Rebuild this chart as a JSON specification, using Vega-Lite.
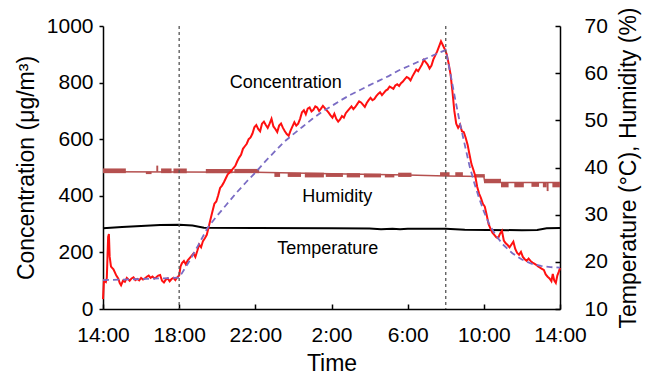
{
  "$schema": "https://vega.github.io/schema/vega-lite/v6.json",
  "width": 457,
  "height": 283,
  "autosize": {"type": "none"},
  "padding": {"left": 103, "top": 26, "right": 89, "bottom": 68},
  "background": "white",
  "config": {
    "font": "Liberation Sans",
    "view": {"stroke": null},
    "axis": {
      "labelFontSize": 21, "titleFontSize": 23, "titleFontWeight": "normal",
      "labelColor": "black", "titleColor": "black", "domainColor": "black",
      "tickColor": "black", "domainWidth": 1.5, "tickWidth": 1.5, "grid": false,
      "labelFont": "Liberation Sans", "titleFont": "Liberation Sans"
    }
  },
  "datasets": {
    "conc": [
      {"t":0,"c":35},{"t":0.05,"c":100},{"t":0.15,"c":95},{"t":0.2,"c":110},{"t":0.27,"c":255},{"t":0.31,"c":265},{"t":0.35,"c":185},{"t":0.42,"c":150},{"t":0.55,"c":140},{"t":0.7,"c":118},{"t":0.8,"c":108},{"t":0.88,"c":92},{"t":0.95,"c":84},{"t":1.05,"c":100},{"t":1.15,"c":96},{"t":1.25,"c":110},{"t":1.4,"c":100},{"t":1.5,"c":108},{"t":1.6,"c":112},{"t":1.7,"c":102},{"t":1.8,"c":106},{"t":1.9,"c":101},{"t":2.0,"c":110},{"t":2.1,"c":104},{"t":2.2,"c":108},{"t":2.3,"c":114},{"t":2.4,"c":118},{"t":2.5,"c":110},{"t":2.6,"c":115},{"t":2.7,"c":108},{"t":2.8,"c":112},{"t":2.9,"c":118},{"t":3.0,"c":120},{"t":3.1,"c":100},{"t":3.2,"c":94},{"t":3.3,"c":104},{"t":3.4,"c":108},{"t":3.5,"c":98},{"t":3.6,"c":106},{"t":3.7,"c":110},{"t":3.8,"c":102},{"t":3.9,"c":112},{"t":4.0,"c":118},{"t":4.07,"c":150},{"t":4.15,"c":162},{"t":4.25,"c":170},{"t":4.35,"c":158},{"t":4.45,"c":172},{"t":4.55,"c":180},{"t":4.65,"c":188},{"t":4.75,"c":196},{"t":4.85,"c":184},{"t":4.95,"c":205},{"t":5.05,"c":228},{"t":5.15,"c":218},{"t":5.25,"c":240},{"t":5.35,"c":250},{"t":5.45,"c":262},{"t":5.55,"c":290},{"t":5.65,"c":318},{"t":5.75,"c":345},{"t":5.85,"c":372},{"t":5.95,"c":380},{"t":6.05,"c":402},{"t":6.15,"c":428},{"t":6.25,"c":436},{"t":6.35,"c":448},{"t":6.45,"c":462},{"t":6.55,"c":476},{"t":6.65,"c":482},{"t":6.75,"c":490},{"t":6.85,"c":498},{"t":6.95,"c":506},{"t":7.05,"c":522},{"t":7.15,"c":535},{"t":7.25,"c":545},{"t":7.35,"c":566},{"t":7.45,"c":575},{"t":7.55,"c":584},{"t":7.65,"c":600},{"t":7.75,"c":606},{"t":7.85,"c":620},{"t":7.95,"c":642},{"t":8.05,"c":650},{"t":8.15,"c":636},{"t":8.25,"c":628},{"t":8.35,"c":655},{"t":8.45,"c":662},{"t":8.55,"c":650},{"t":8.65,"c":640},{"t":8.75,"c":655},{"t":8.85,"c":672},{"t":8.95,"c":645},{"t":9.05,"c":636},{"t":9.15,"c":625},{"t":9.25,"c":648},{"t":9.35,"c":655},{"t":9.45,"c":640},{"t":9.55,"c":628},{"t":9.65,"c":618},{"t":9.75,"c":612},{"t":9.85,"c":630},{"t":9.95,"c":645},{"t":10.05,"c":660},{"t":10.15,"c":648},{"t":10.25,"c":655},{"t":10.35,"c":672},{"t":10.45,"c":695},{"t":10.55,"c":702},{"t":10.65,"c":688},{"t":10.75,"c":708},{"t":10.85,"c":712},{"t":10.95,"c":698},{"t":11.05,"c":704},{"t":11.15,"c":716},{"t":11.25,"c":712},{"t":11.35,"c":700},{"t":11.45,"c":708},{"t":11.55,"c":718},{"t":11.65,"c":710},{"t":11.75,"c":702},{"t":11.85,"c":694},{"t":11.95,"c":684},{"t":12.05,"c":676},{"t":12.15,"c":690},{"t":12.25,"c":672},{"t":12.35,"c":662},{"t":12.45,"c":670},{"t":12.55,"c":682},{"t":12.65,"c":676},{"t":12.75,"c":692},{"t":12.85,"c":700},{"t":12.95,"c":708},{"t":13.05,"c":716},{"t":13.15,"c":706},{"t":13.25,"c":714},{"t":13.35,"c":724},{"t":13.45,"c":734},{"t":13.55,"c":730},{"t":13.65,"c":722},{"t":13.75,"c":714},{"t":13.85,"c":728},{"t":13.95,"c":738},{"t":14.05,"c":746},{"t":14.15,"c":738},{"t":14.25,"c":742},{"t":14.35,"c":752},{"t":14.45,"c":760},{"t":14.55,"c":766},{"t":14.65,"c":756},{"t":14.75,"c":764},{"t":14.85,"c":772},{"t":14.95,"c":776},{"t":15.05,"c":786},{"t":15.15,"c":782},{"t":15.25,"c":778},{"t":15.35,"c":790},{"t":15.45,"c":794},{"t":15.55,"c":788},{"t":15.65,"c":798},{"t":15.75,"c":804},{"t":15.85,"c":812},{"t":15.95,"c":820},{"t":16.05,"c":816},{"t":16.15,"c":808},{"t":16.25,"c":822},{"t":16.35,"c":834},{"t":16.45,"c":846},{"t":16.55,"c":840},{"t":16.65,"c":852},{"t":16.75,"c":864},{"t":16.85,"c":880},{"t":16.95,"c":872},{"t":17.05,"c":864},{"t":17.15,"c":850},{"t":17.25,"c":860},{"t":17.35,"c":882},{"t":17.45,"c":896},{"t":17.55,"c":910},{"t":17.65,"c":928},{"t":17.75,"c":946},{"t":17.85,"c":932},{"t":17.95,"c":918},{"t":18.05,"c":900},{"t":18.15,"c":868},{"t":18.25,"c":830},{"t":18.35,"c":770},{"t":18.45,"c":700},{"t":18.55,"c":655},{"t":18.65,"c":640},{"t":18.75,"c":652},{"t":18.85,"c":628},{"t":18.95,"c":625},{"t":19.05,"c":604},{"t":19.15,"c":580},{"t":19.25,"c":545},{"t":19.35,"c":512},{"t":19.45,"c":492},{"t":19.55,"c":470},{"t":19.65,"c":432},{"t":19.75,"c":408},{"t":19.85,"c":392},{"t":19.95,"c":372},{"t":20.05,"c":362},{"t":20.15,"c":332},{"t":20.25,"c":300},{"t":20.35,"c":284},{"t":20.45,"c":270},{"t":20.55,"c":262},{"t":20.65,"c":254},{"t":20.75,"c":250},{"t":20.85,"c":266},{"t":20.95,"c":276},{"t":21.05,"c":242},{"t":21.15,"c":232},{"t":21.25,"c":226},{"t":21.35,"c":218},{"t":21.45,"c":228},{"t":21.55,"c":238},{"t":21.65,"c":212},{"t":21.75,"c":198},{"t":21.85,"c":192},{"t":21.95,"c":202},{"t":22.05,"c":184},{"t":22.15,"c":176},{"t":22.25,"c":170},{"t":22.35,"c":178},{"t":22.45,"c":170},{"t":22.55,"c":164},{"t":22.65,"c":160},{"t":22.75,"c":156},{"t":22.85,"c":150},{"t":22.95,"c":146},{"t":23.05,"c":142},{"t":23.15,"c":138},{"t":23.25,"c":122},{"t":23.35,"c":114},{"t":23.45,"c":108},{"t":23.55,"c":98},{"t":23.62,"c":124},{"t":23.7,"c":100},{"t":23.78,"c":92},{"t":23.86,"c":118},{"t":23.94,"c":132},{"t":24.0,"c":145}
    ],
    "fit": [
      {"t":0,"c":102},{"t":1,"c":104},{"t":2,"c":106},{"t":3,"c":108},{"t":4,"c":111},{"t":4.5,"c":165},{"t":5,"c":225},{"t":5.5,"c":288},{"t":6,"c":330},{"t":6.5,"c":370},{"t":7,"c":410},{"t":7.5,"c":447},{"t":8,"c":482},{"t":8.5,"c":520},{"t":9,"c":555},{"t":9.5,"c":590},{"t":10,"c":618},{"t":10.5,"c":645},{"t":11,"c":672},{"t":11.5,"c":697},{"t":12,"c":717},{"t":12.5,"c":738},{"t":13,"c":757},{"t":13.5,"c":774},{"t":14,"c":791},{"t":14.5,"c":807},{"t":15,"c":823},{"t":15.5,"c":842},{"t":16,"c":857},{"t":16.5,"c":872},{"t":17,"c":886},{"t":17.5,"c":901},{"t":18,"c":915},{"t":18.25,"c":830},{"t":18.5,"c":740},{"t":18.75,"c":655},{"t":19,"c":580},{"t":19.25,"c":505},{"t":19.5,"c":445},{"t":19.75,"c":392},{"t":20,"c":345},{"t":20.25,"c":305},{"t":20.5,"c":275},{"t":20.75,"c":250},{"t":21,"c":228},{"t":21.5,"c":197},{"t":22,"c":175},{"t":22.5,"c":160},{"t":23,"c":152},{"t":23.5,"c":148},{"t":24,"c":146}
    ],
    "temp": [
      {"t":0,"v":27.1},{"t":1,"v":27.4},{"t":2,"v":27.6},{"t":3,"v":27.8},{"t":4,"v":27.85},{"t":4.7,"v":27.7},{"t":5.3,"v":27.25},{"t":8,"v":27.15},{"t":12,"v":27.1},{"t":14,"v":27.05},{"t":14.6,"v":26.9},{"t":15.2,"v":27.0},{"t":15.6,"v":26.9},{"t":16,"v":27.0},{"t":18,"v":27.0},{"t":19,"v":26.8},{"t":22,"v":26.7},{"t":22.8,"v":26.75},{"t":23.3,"v":27.1},{"t":24,"v":27.15}
    ],
    "hum": [
      {"t":0,"v":39.1},{"t":8,"v":39.0},{"t":12,"v":38.7},{"t":16,"v":38.4},{"t":18,"v":38.2},{"t":20,"v":38.1},{"t":20.05,"v":36.8},{"t":24,"v":36.8}
    ],
    "blocks": [
      {"t0":0,"t1":1.2,"lo":38.8,"hi":39.8},
      {"t0":2.25,"t1":2.55,"lo":38.6,"hi":39.1},
      {"t0":2.8,"t1":2.9,"lo":39.1,"hi":40.4},
      {"t0":3.05,"t1":3.6,"lo":38.8,"hi":39.8},
      {"t0":3.7,"t1":4.4,"lo":38.8,"hi":39.8},
      {"t0":5.4,"t1":6.8,"lo":38.8,"hi":39.7},
      {"t0":6.9,"t1":8.2,"lo":38.8,"hi":39.7},
      {"t0":9.0,"t1":9.3,"lo":38.0,"hi":39.0},
      {"t0":9.7,"t1":10.4,"lo":38.0,"hi":38.9},
      {"t0":10.6,"t1":11.6,"lo":37.9,"hi":38.9},
      {"t0":11.7,"t1":12.6,"lo":38.0,"hi":38.8},
      {"t0":12.8,"t1":13.5,"lo":37.9,"hi":38.8},
      {"t0":13.7,"t1":14.6,"lo":37.9,"hi":38.7},
      {"t0":14.8,"t1":15.3,"lo":37.9,"hi":38.6},
      {"t0":15.5,"t1":16.2,"lo":38.0,"hi":38.9},
      {"t0":17.7,"t1":18.2,"lo":38.2,"hi":39.0},
      {"t0":18.5,"t1":18.9,"lo":38.2,"hi":39.0},
      {"t0":19.5,"t1":20.05,"lo":37.9,"hi":38.6},
      {"t0":20.05,"t1":20.9,"lo":36.8,"hi":37.6},
      {"t0":20.9,"t1":21.3,"lo":35.8,"hi":36.8},
      {"t0":21.6,"t1":22.1,"lo":35.8,"hi":36.8},
      {"t0":22.5,"t1":22.9,"lo":35.9,"hi":36.8},
      {"t0":23.1,"t1":23.3,"lo":35.8,"hi":36.8},
      {"t0":23.3,"t1":23.4,"lo":35.0,"hi":36.8},
      {"t0":23.6,"t1":24.0,"lo":35.8,"hi":36.8}
    ],
    "marks": [{"t":4},{"t":18}],
    "labels": [
      {"t":9.6,"c":799,"text":"Concentration"},
      {"t":12.3,"c":396,"text":"Humidity"},
      {"t":11.8,"c":213,"text":"Temperature"}
    ]
  },
  "layer": [
    {
      "layer": [
        {
          "data": {"name": "blocks"},
          "mark": {"type": "rect", "color": "#b5504f"},
          "encoding": {
            "x": {"field": "t0", "type": "quantitative", "title": "Time", "scale": {"domain": [0, 24], "nice": false, "zero": false},
              "axis": {"values": [0, 4, 8, 12, 16, 20, 24], "labelExpr": "((datum.value + 14) % 24) + ':00'", "tickSize": -5, "labelPadding": 20, "titlePadding": 7, "labelFlush": false}},
            "x2": {"field": "t1"},
            "y": {"field": "lo", "type": "quantitative", "title": "Temperature (°C),  Humidity (%)", "scale": {"domain": [10, 70], "nice": false, "zero": false},
              "axis": {"orient": "right", "values": [10, 20, 30, 40, 50, 60, 70], "tickSize": -5, "labelPadding": 29, "titlePadding": 10, "titleAngle": 270, "titleBaseline": "top"}},
            "y2": {"field": "hi"}
          }
        },
        {
          "data": {"name": "hum"},
          "mark": {"type": "line", "color": "#b5504f", "strokeWidth": 1.5},
          "encoding": {
            "x": {"field": "t", "type": "quantitative", "title": "Time"},
            "y": {"field": "lo", "type": "quantitative", "title": "Temperature (°C),  Humidity (%)"}
          },
          "transform": [{"calculate": "datum.v", "as": "lo"}]
        },
        {
          "data": {"name": "temp"},
          "mark": {"type": "line", "color": "black", "strokeWidth": 2},
          "encoding": {
            "x": {"field": "t", "type": "quantitative", "title": "Time"},
            "y": {"field": "lo", "type": "quantitative", "title": "Temperature (°C),  Humidity (%)"}
          },
          "transform": [{"calculate": "datum.v", "as": "lo"}]
        }
      ]
    },
    {
      "layer": [
        {
          "data": {"name": "conc"},
          "mark": {"type": "line", "color": "#ff1010", "strokeWidth": 2},
          "encoding": {
            "x": {"field": "t", "type": "quantitative", "title": "Time"},
            "y": {"field": "c", "type": "quantitative", "title": "Concentration (μg/m³)", "scale": {"domain": [0, 1000], "nice": false},
              "axis": {"orient": "left", "values": [0, 200, 400, 600, 800, 1000], "format": "d", "tickSize": 4, "labelPadding": 6, "titlePadding": 8}}
          }
        },
        {
          "data": {"name": "fit"},
          "mark": {"type": "line", "color": "#7a6cc4", "strokeWidth": 1.8, "strokeDash": [6, 4]},
          "encoding": {
            "x": {"field": "t", "type": "quantitative", "title": "Time"},
            "y": {"field": "c", "type": "quantitative", "title": "Concentration (μg/m³)"}
          }
        },
        {
          "data": {"name": "marks"},
          "mark": {"type": "rule", "color": "#555555", "strokeWidth": 1.3, "strokeDash": [3, 3]},
          "encoding": {
            "x": {"field": "t", "type": "quantitative", "title": "Time"}
          }
        },
        {
          "data": {"name": "labels"},
          "mark": {"type": "text", "fontSize": 18, "font": "Liberation Sans", "color": "black", "align": "center", "baseline": "middle"},
          "encoding": {
            "x": {"field": "t", "type": "quantitative", "title": "Time"},
            "y": {"field": "c", "type": "quantitative", "title": "Concentration (μg/m³)"},
            "text": {"field": "text"}
          }
        }
      ]
    }
  ],
  "resolve": {"scale": {"y": "independent"}, "axis": {"y": "independent"}}
}
